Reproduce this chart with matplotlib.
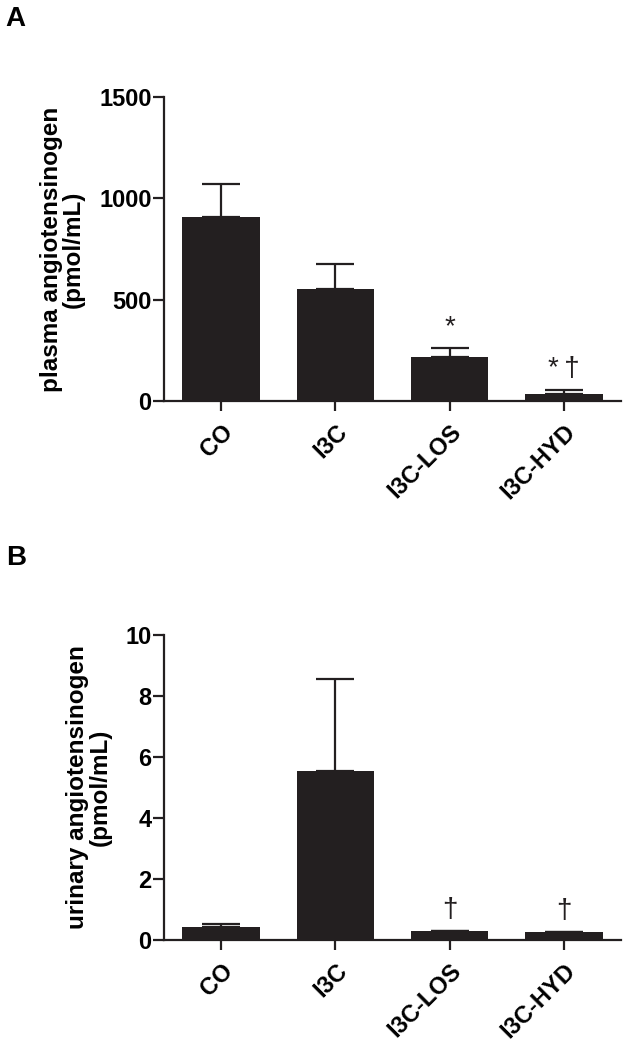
import matplotlib
matplotlib.use('Agg')
import matplotlib.pyplot as plt

groups = ['CO', 'I3C', 'I3C-LOS', 'I3C-HYD']

plasma_mean = [908, 553, 217, 37]
plasma_sem = [163, 123, 44, 18]
plasma_marks = ['', '', '*', '*\u2009\u2020']

urinary_mean = [0.43, 5.54, 0.29, 0.26]
urinary_sem = [0.08, 3.02, 0.01, 0.005]
urinary_marks = ['', '', '\u2020', '\u2020']

plt.rcParams['font.family'] = ['Liberation Sans', 'DejaVu Sans']
plt.rcParams['font.weight'] = 'bold'

bar_color = '#231f20'
fig = plt.figure(figsize=(6.31, 10.49), dpi=100)


def panel(rect, means, sems, marks, ylim, yticks, ylabel, letter, letter_y):
    ax = fig.add_axes(rect)
    x = list(range(len(groups)))
    ax.bar(x, means, width=0.68, color=bar_color, zorder=2)
    ax.errorbar(x, means, yerr=[[0] * len(sems), sems], fmt='none',
                ecolor=bar_color, elinewidth=1.6, capsize=14, capthick=1.6, zorder=3)
    ax.set_xlim(-0.5, 3.5)
    ax.set_ylim(*ylim)
    ax.set_yticks(yticks)
    ax.set_xticks(x)
    ax.set_xticklabels(groups, rotation=45, ha='right', rotation_mode='anchor',
                       fontsize=17, fontweight='bold')
    for lab in ax.get_yticklabels():
        lab.set_fontsize(17)
        lab.set_fontweight('bold')
    for s in ['top', 'right']:
        ax.spines[s].set_visible(False)
    for s in ['left', 'bottom']:
        ax.spines[s].set_linewidth(1.6)
        ax.spines[s].set_color(bar_color)
    ax.tick_params(axis='y', length=8, width=1.6, color=bar_color, pad=1)
    ax.tick_params(axis='x', length=7, width=1.6, color=bar_color, pad=7)
    ax.set_ylabel(ylabel, fontsize=17.5, fontweight='bold', linespacing=0.95, labelpad=10)
    for i, m in enumerate(marks):
        if m:
            ax.annotate(m, (i, means[i] + sems[i]), xytext=(0, 15),
                        textcoords='offset points', ha='center', va='center',
                        fontsize=20, fontweight='normal', color=bar_color)
    fig.text(0.009, letter_y, letter, fontsize=20, fontweight='bold', va='top')
    return ax


panel([0.260, 0.6177, 0.724, 0.2898], plasma_mean, plasma_sem, plasma_marks,
      (0, 1500), [0, 500, 1000, 1500],
      'plasma angiotensinogen\n(pmol/mL)', 'A', 0.994)
panel([0.260, 0.1039, 0.724, 0.2908], urinary_mean, urinary_sem, urinary_marks,
      (0, 10), [0, 2, 4, 6, 8, 10],
      'urinary angiotensinogen\n(pmol/mL)', 'B', 0.480)

fig.savefig('out.png', dpi=100)
